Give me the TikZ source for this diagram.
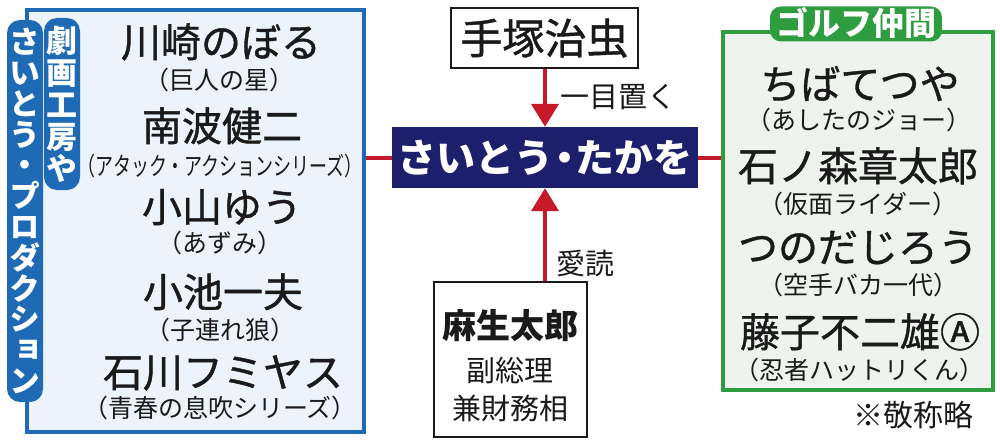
\documentclass[tikz,border=0pt]{standalone}
\usepackage{fontspec}
\setmainfont{Noto Sans CJK JP}
\newfontfamily\jp{Noto Sans CJK JP}
\newfontfamily\jpm[FakeBold=1]{Noto Sans CJK JP}
\newfontfamily\jpv[RawFeature=+vert]{Noto Sans CJK JP}
\usetikzlibrary{arrows.meta,calc}
\definecolor{lblue}{HTML}{1E6AB5}
\definecolor{lbfill}{HTML}{ECF3FA}
\definecolor{gline}{HTML}{2E9D3F}
\definecolor{gfill}{HTML}{EEF3EE}
\definecolor{navy}{HTML}{1C1F6B}
\definecolor{rline}{HTML}{C8192B}
\definecolor{ink}{HTML}{1A1A1A}
\begin{document}
\begin{tikzpicture}[x=1pt,y=-1pt,
  nm/.style={font=\jpm\fontsize{40}{44}\selectfont, text=ink, inner sep=0pt, text height=35pt, text depth=5pt},
  sb/.style={font=\jp\fontsize{25}{28}\selectfont, text=ink, inner sep=0pt, text height=22pt, text depth=3pt},
  lb/.style={font=\jp\fontsize{29}{32}\selectfont, text=ink, inner sep=0pt, text height=25.5pt, text depth=3.5pt},
  vlab/.style={font=\jpv\bfseries\fontsize{31}{30.8}\selectfont, align=center, inner sep=0pt,
               fill=lblue, text=white, rounded corners=13pt, minimum width=36pt},
  gt/.style={font=\jp\bfseries\fontsize{32}{36}\selectfont, inner xsep=6pt, inner ysep=0pt,
             text height=29pt, text depth=6pt, fill=gline, text=white, rounded corners=11pt},
  rl/.style={draw=rline, line width=4pt},
  arr/.style={rl, -{Triangle[width=27pt,length=23pt]}},
  wbox/.style={draw=ink, line width=2pt, fill=white, inner sep=0pt}
]
\useasboundingbox (0,0) rectangle (1000,444);

% left box
\node[draw=lblue, line width=3.5pt, fill=lbfill, minimum width=337pt, minimum height=422pt, inner sep=0pt] (lbox) at (195.5,221) {};
% right box
\node[draw=gline, line width=3.5pt, fill=gfill, minimum width=270pt, minimum height=358pt, inner sep=0pt] (rbox) at (858,211) {};

% vertical labels
\node[vlab, minimum height=382pt] (outer) at (25,211)
  {さ\\い\\と\\う\\・\\プ\\ロ\\ダ\\ク\\シ\\ョ\\ン};
\node[vlab, minimum height=172pt, font=\jpv\bfseries\fontsize{31}{32}\selectfont] (inner) at (62,104)
  {劇\\画\\工\\房\\や};

% left names
\node[nm] (n1) at (221,42) {川崎のぼる};
\node[sb] (s1) at (219,80) {（巨人の星）};
\node[nm] (n2) at (222,126) {南波健二};
\node[sb] (s2) at (220,166) {\scalebox{0.72}[1]{（アタック・アクションシリーズ）}};
\node[nm] (n3) at (222,207) {小山ゆう};
\node[sb] (s3) at (220,243) {（あずみ）};
\node[nm] (n4) at (223,292) {小池一夫};
\node[sb] (s4) at (220,330) {（子連れ狼）};
\node[nm] (n5) at (223,372) {石川フミヤス};
\node[sb] (s5) at (220,408) {（青春の息吹シリーズ）};

% golf title
\node[gt] (golf) at (856,24) {ゴルフ仲間};

% right names
\node[nm] (r1) at (860,84) {ちばてつや};
\node[sb] (t1) at (859,120) {（あしたのジョー）};
\node[nm] (r2) at (858,166) {石ノ森章太郎};
\node[sb] (t2) at (858,204) {（仮面ライダー）};
\node[nm] (r3) at (858,247) {つのだじろう};
\node[sb] (t3) at (858,285) {（空手バカ一代）};
\node[nm] (r4) at (860,332) {藤子不二雄Ⓐ};
\node[sb] (t4) at (859,370) {（忍者ハットリくん）};
\node[font=\jp\fontsize{30}{34}\selectfont, text=ink, inner sep=0pt, text height=26.4pt, text depth=3.6pt] (note) at (913,415) {※敬称略};

% center
\node[wbox, minimum width=187pt, minimum height=60pt] (tezuka) at (544.5,38) {};
\node[font=\jpm\fontsize{42}{46}\selectfont, text=ink, inner sep=0pt, text height=37pt, text depth=5pt] (tezukat) at (tezuka) {手塚治虫};
\node[fill=navy, minimum width=306pt, minimum height=61pt, inner sep=0pt] (saito) at (545,157.5) {};
\node[font=\jp\bfseries\fontsize{39}{42}\selectfont, text=white, inner sep=0pt, text height=34.3pt, text depth=4.7pt] (saitot) at (saito) {さいとう\kern-.22em・\kern-.22emたかを};
\node[wbox, minimum width=153pt, minimum height=155pt] (aso) at (510.5,359.5) {};
\node[font=\jp\bfseries\fontsize{34}{38}\selectfont, text=ink, inner sep=0pt, text height=30pt, text depth=4pt] (aso1) at (510,325) {麻生太郎};
\node[lb] (aso2) at (510,370) {副総理};
\node[lb] (aso3) at (510,408) {兼財務相};

% connectors
\draw[arr] (tezuka.south -| saito.north) -- (saito.north);
\draw[arr] (saito.south |- aso.north) -- (saito.south);
\draw[rl] (lbox.east |- saito.west) -- (saito.west);
\draw[rl] (saito.east) -- (rbox.west |- saito.east);
\node[lb, anchor=west] (l1) at (560,96) {一目置く};
\node[lb, anchor=west] (l2) at (556,263) {愛読};
\end{tikzpicture}
\end{document}
